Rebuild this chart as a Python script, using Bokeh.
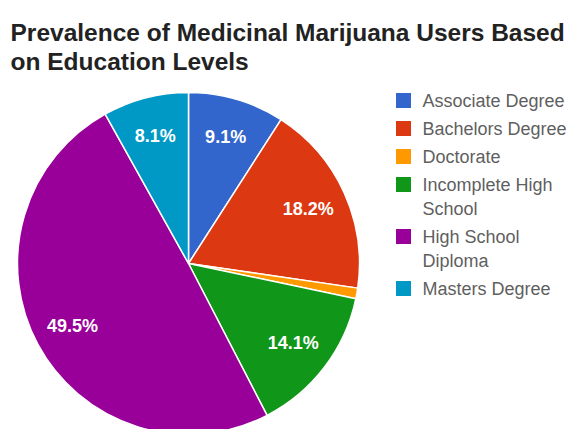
import numpy as np
from bokeh.plotting import figure
from bokeh.models import Range1d, ColumnDataSource
from bokeh.core.properties import value
from bokeh.embed import file_html
from bokeh.resources import INLINE

title_lines = ["Prevalence of Medicinal Marijuana Users Based", "on Education Levels"]
categories = ["Associate Degree", "Bachelors Degree", "Doctorate",
              "Incomplete High School", "High School Diploma", "Masters Degree"]
legend_lines = [["Associate Degree"], ["Bachelors Degree"], ["Doctorate"],
                ["Incomplete High", "School"], ["High School", "Diploma"], ["Masters Degree"]]
values = [9.1, 18.2, 1.0, 14.1, 49.5, 8.1]
colors = ["#3366cc", "#dc3912", "#ff9900", "#109618", "#990099", "#0099c6"]

W, H = 572, 429
FONT = "Liberation Sans"

def fy(y):
    # reference page pixel y -> data y
    return H - y

def fx(x):
    return x

p = figure(width=W, height=H, output_backend="svg", toolbar_location=None,
           x_range=Range1d(0, W), y_range=Range1d(0, H), min_border=0)
p.axis.visible = False
p.grid.visible = False
p.outline_line_color = None
p.background_fill_color = "white"
p.border_fill_color = "white"

vals = np.array(values, dtype=float)
frac = vals / vals.sum()
cum_end = np.cumsum(frac)
cum_start = cum_end - frac
start_angle = np.pi / 2 - cum_start * 2 * np.pi
end_angle = np.pi / 2 - cum_end * 2 * np.pi
mid_angle = (start_angle + end_angle) / 2

cx, cy, r = fx(188), fy(263), 171

src = ColumnDataSource(dict(start=start_angle, end=end_angle, color=colors, cat=categories))
p.wedge(x=cx, y=cy, radius=r, start_angle="start", end_angle="end", direction="clock",
        fill_color="color", line_color="white", line_width=1.5, source=src)

# slice labels
lr = 0.77 * r
lab_x, lab_y, lab_t = [], [], []
for v, a in zip(values, mid_angle):
    if v >= 5:
        lab_x.append(cx + lr * np.cos(a))
        lab_y.append(cy + lr * np.sin(a))
        lab_t.append(f"{v:.1f}%")
p.text(x=lab_x, y=lab_y, text=lab_t, text_color="white", text_font=value(FONT),
       text_font_size="18px", text_font_style="bold", text_align="center",
       text_baseline="middle")

# title
p.text(x=[fx(10), fx(10)], y=[fy(32), fy(61)], text=title_lines, text_color="#222222",
       text_font=value(FONT), text_font_size="24.5px", text_font_style="bold",
       text_align="left", text_baseline="alphabetic")

# legend
sq_x, sq_y, t_x, t_y, t_t = [], [], [], [], []
yc = 100
for lines in legend_lines:
    sq_x.append(fx(403))
    sq_y.append(fy(yc))
    for i, ln in enumerate(lines):
        t_x.append(fx(422))
        t_y.append(fy(yc + 24 * i))
        t_t.append(ln)
    yc += 28 + 24 * (len(lines) - 1)
p.rect(x=sq_x, y=sq_y, width=15, height=15, fill_color=colors, line_color=None)
p.text(x=t_x, y=t_y, text=t_t, text_color="#5f5f5f", text_font=value(FONT),
       text_font_size="18px", text_align="left", text_baseline="middle")

open("out.html", "w").write(file_html(p, INLINE))
